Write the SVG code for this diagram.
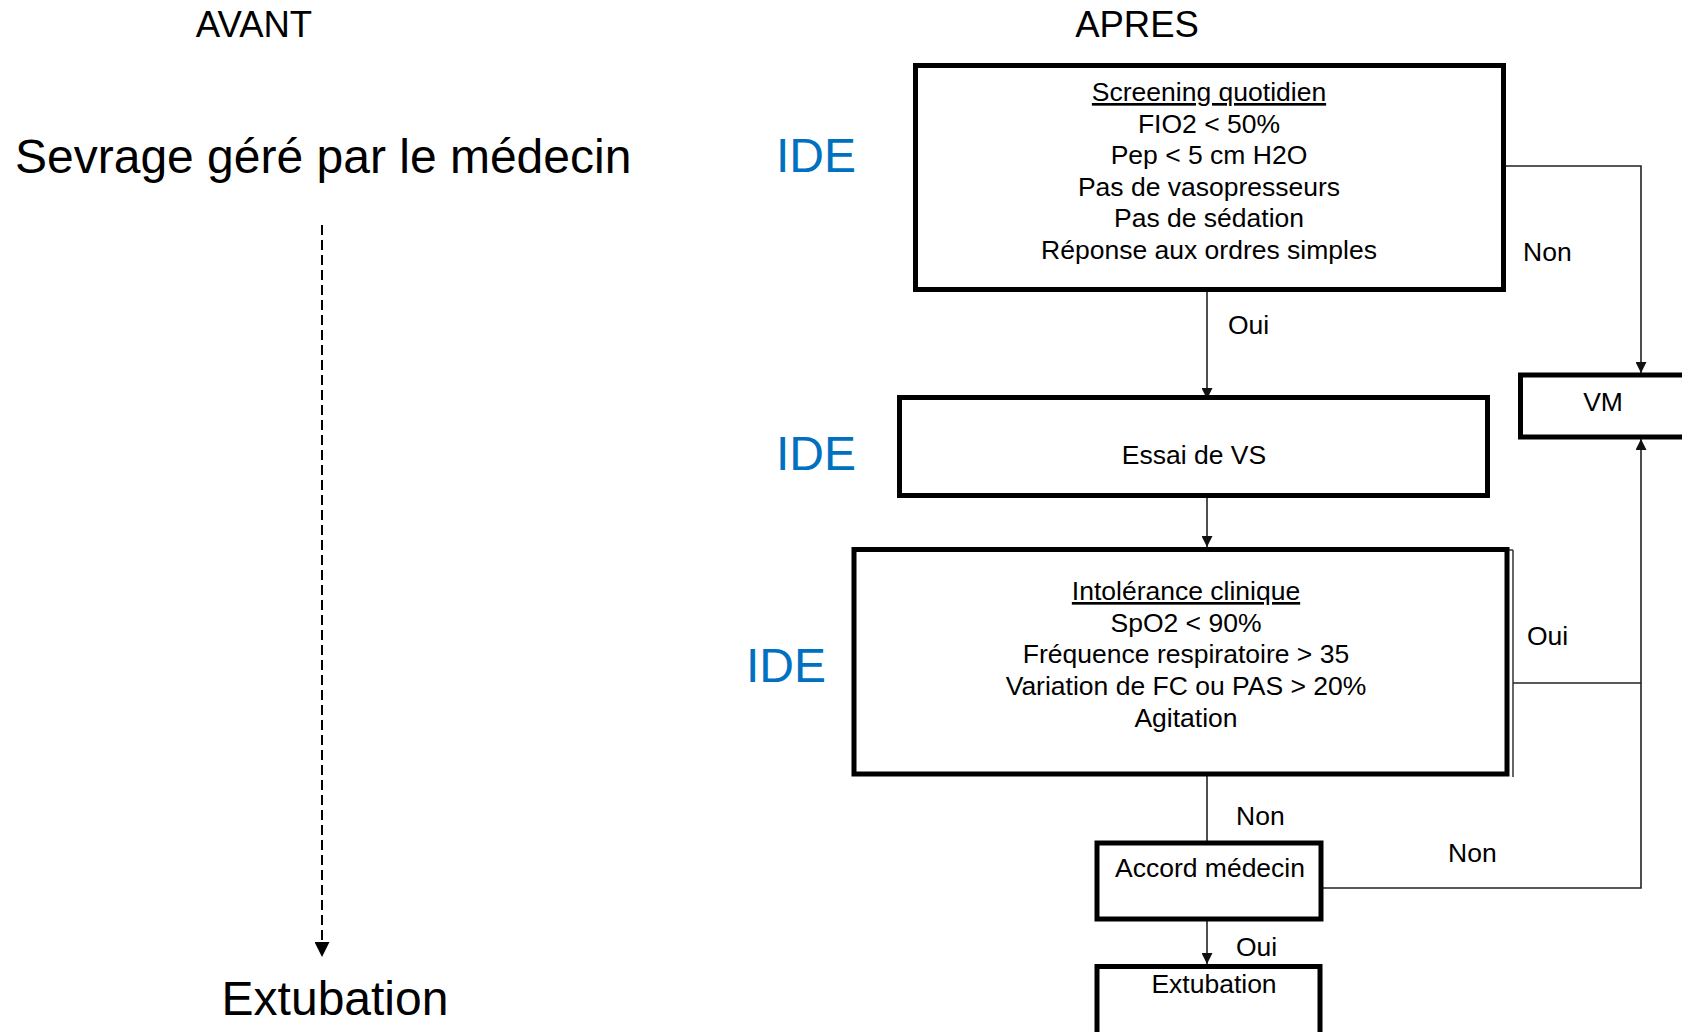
<svg xmlns="http://www.w3.org/2000/svg" width="1682" height="1032" viewBox="0 0 1682 1032">
  <defs>
    <marker id="arr" viewBox="0 0 10 10" refX="10" refY="5" markerUnits="userSpaceOnUse" markerWidth="12" markerHeight="11" orient="auto">
      <path d="M0,0 L10,5 L0,10 z" fill="#111"/>
    </marker>
    <marker id="arrL" viewBox="0 0 10 10" refX="10" refY="5" markerUnits="userSpaceOnUse" markerWidth="15" markerHeight="15" orient="auto">
      <path d="M0,0 L10,5 L0,10 z" fill="#000"/>
    </marker>
    <style>
      text { font-family: "Liberation Sans", Arial, sans-serif; fill: #000; }
      .box { fill: #fff; stroke: #000; stroke-width: 5; }
      .bt { font-size: 26.5px; text-anchor: middle; }
      .lbl { font-size: 26.5px; }
      .ide { font-size: 48px; fill: #0070C0; }
      .big { font-size: 48px; }
      .head { font-size: 36.5px; text-anchor: middle; }
      .conn { fill: none; stroke: #222; stroke-width: 1.6; }
    </style>
  </defs>
  <rect width="1682" height="1032" fill="#fff"/>

  <!-- headers -->
  <text class="head" x="254" y="37">AVANT</text>
  <text class="head" x="1137" y="37">APRES</text>

  <!-- left side -->
  <g id="sevrage"><text class="big" x="15" y="173">Sevrage géré par le médecin</text></g>
  <g id="extubation-avant"><text class="big" x="335" y="1015" text-anchor="middle">Extubation</text></g>

  <!-- IDE labels -->
  <text class="ide" x="776" y="172">IDE</text>
  <text class="ide" x="776" y="470">IDE</text>
  <text class="ide" x="746" y="682">IDE</text>

  <!-- connectors -->
  <g id="connectors">
    <line x1="322" y1="225" x2="322" y2="957" stroke="#000" stroke-width="2" stroke-dasharray="10 5" marker-end="url(#arrL)"/>
    <line class="conn" x1="1207" y1="291" x2="1207" y2="399" marker-end="url(#arr)"/>
    <polyline class="conn" points="1505,166 1641,166 1641,373" marker-end="url(#arr)"/>
    <line class="conn" x1="1207" y1="497" x2="1207" y2="547" marker-end="url(#arr)"/>
    <line class="conn" x1="1513" y1="683" x2="1641" y2="683"/>
    <line class="conn" x1="1207" y1="776" x2="1207" y2="841"/>
    <polyline class="conn" points="1323,888 1641,888 1641,439" marker-end="url(#arr)"/>
    <line class="conn" x1="1207" y1="921" x2="1207" y2="964" marker-end="url(#arr)"/>
    <text class="lbl" x="1523" y="261">Non</text>
    <text class="lbl" x="1228" y="334">Oui</text>
    <text class="lbl" x="1527" y="645">Oui</text>
    <text class="lbl" x="1236" y="825">Non</text>
    <text class="lbl" x="1448" y="862">Non</text>
    <text class="lbl" x="1236" y="956">Oui</text>
  </g>

  <!-- nodes -->
  <g id="screening">
    <rect class="box" x="915.5" y="65.5" width="588" height="224"/>
    <text class="bt" x="1209" y="101" text-decoration="underline">Screening quotidien</text>
    <text class="bt" x="1209" y="132.6">FIO2 &lt; 50%</text>
    <text class="bt" x="1209" y="164.2">Pep &lt; 5 cm H2O</text>
    <text class="bt" x="1209" y="195.8">Pas de vasopresseurs</text>
    <text class="bt" x="1209" y="227.4">Pas de sédation</text>
    <text class="bt" x="1209" y="259">Réponse aux ordres simples</text>
  </g>

  <g id="essai">
    <rect class="box" x="899.5" y="397.5" width="588" height="98"/>
    <text class="bt" x="1194" y="464">Essai de VS</text>
  </g>

  <g id="intolerance">
    <line x1="1513" y1="550" x2="1513" y2="777" stroke="#333" stroke-width="1.5"/>
    <line x1="1507" y1="550" x2="1513" y2="550" stroke="#333" stroke-width="1.5"/>
    <rect class="box" x="854" y="549.5" width="653" height="224.5"/>
    <text class="bt" x="1186" y="600" text-decoration="underline">Intolérance clinique</text>
    <text class="bt" x="1186" y="631.7">SpO2 &lt; 90%</text>
    <text class="bt" x="1186" y="663.4">Fréquence respiratoire &gt; 35</text>
    <text class="bt" x="1186" y="695.1">Variation de FC ou PAS &gt; 20%</text>
    <text class="bt" x="1186" y="726.8">Agitation</text>
  </g>

  <g id="vm">
    <rect class="box" x="1520.5" y="375" width="200" height="62"/>
    <text class="bt" x="1603" y="411">VM</text>
  </g>

  <g id="accord">
    <rect class="box" x="1097" y="843" width="224" height="76"/>
    <text class="bt" x="1210" y="877">Accord médecin</text>
  </g>

  <g id="extubation">
    <rect class="box" x="1097" y="966.5" width="223" height="72"/>
    <text class="bt" x="1214" y="993">Extubation</text>
  </g>
</svg>
